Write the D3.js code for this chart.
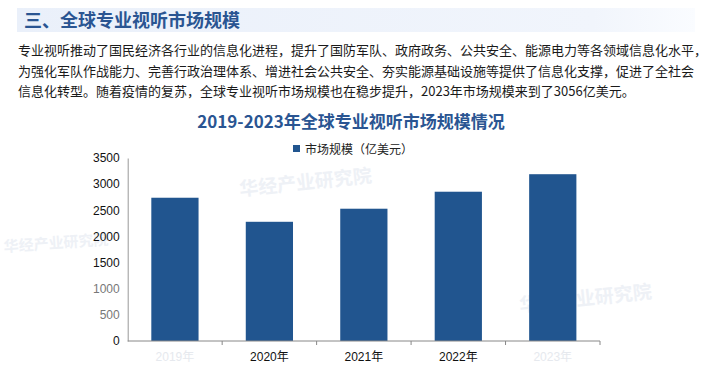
<!DOCTYPE html>
<html><head><meta charset="utf-8">
<script src="https://cdn.jsdelivr.net/npm/d3@7"></script>
<style>
html,body{margin:0;padding:0;background:#fff;}
svg{display:block;font-family:"Noto Sans CJK SC","Liberation Sans",sans-serif;}
</style></head>
<body><svg id="c" width="705" height="392"></svg>
<script>
const categories = ["2019年","2020年","2021年","2022年","2023年"];
const values = [2740, 2280, 2530, 2855, 3190];
const yTicks = [0, 500, 1000, 1500, 2000, 2500, 3000, 3500];
const seriesName = "市场规模（亿美元）";
const chartTitle = "2019-2023年全球专业视听市场规模情况";
const heading = "三、全球专业视听市场规模";
const paragraph = [
  "专业视听推动了国民经济各行业的信息化进程，提升了国防军队、政府政务、公共安全、能源电力等各领域信息化水平，",
  "为强化军队作战能力、完善行政治理体系、增进社会公共安全、夯实能源基础设施等提供了信息化支撑，促进了全社会",
  "信息化转型。随着疫情的复苏，全球专业视听市场规模也在稳步提升，2023年市场规模来到了3056亿美元。"
];
const watermark = "华经产业研究院";

const svg = d3.select("#c");
const blue = "#21558f";

// heading band
const grad = svg.append("defs").append("linearGradient").attr("id","hg");
grad.append("stop").attr("offset","0").attr("stop-color","#eaf0fa");
grad.append("stop").attr("offset","0.85").attr("stop-color","#f1f5fc");
grad.append("stop").attr("offset","1").attr("stop-color","#fafcff");
svg.append("rect").attr("x",17).attr("y",8).attr("width",678).attr("height",24).attr("fill","url(#hg)");
svg.append("text").attr("x",24).attr("y",26.5).attr("font-size",18).attr("font-weight","bold")
  .attr("fill","#2a5592").text(heading);

// watermarks (faint)
const wm = [[240,196,-6,19],[4,252,-4,15],[520,312,-6,19]];
wm.forEach(([x,y,r,s])=>{
  svg.append("text").attr("transform",`translate(${x},${y}) rotate(${r})`).attr("font-size",s)
    .attr("font-weight","bold").attr("fill","#eef1f6").text(watermark);
});

// paragraph
paragraph.forEach((t,i)=>{
  svg.append("text").attr("x",18).attr("y",55+i*20.5).attr("font-size",13).attr("fill","#1a1a1a").text(t);
});

// chart title
svg.append("text").attr("x",351).attr("y",128).attr("text-anchor","middle").attr("font-size",17)
  .attr("font-weight","bold").attr("fill","#2a5592").text(chartTitle);

// legend
svg.append("rect").attr("x",293).attr("y",145).attr("width",7).attr("height",7).attr("fill",blue);
svg.append("text").attr("x",305).attr("y",153.5).attr("font-size",12).attr("fill","#222").text(seriesName);

// scales
const x = d3.scaleBand().domain(categories).range([127.7,600]).paddingInner(0.5).paddingOuter(0.25);
const y = d3.scaleLinear().domain([0,3500]).range([341,158]);

const g = svg.append("g");
g.selectAll("rect.bar").data(values).join("rect").attr("class","bar")
  .attr("x",(d,i)=>x(categories[i])).attr("width",x.bandwidth())
  .attr("y",d=>y(d)).attr("height",d=>y(0)-y(d)).attr("fill",blue);

// y axis
const ya = svg.append("g").attr("transform","translate(127.7,0)")
  .call(d3.axisLeft(y).tickValues(yTicks).tickSize(0).tickPadding(8).tickFormat(d3.format("d")));
ya.select(".domain").attr("stroke","#999");
ya.selectAll("text").attr("font-family","Liberation Sans, Arial, sans-serif").attr("font-size",12)
  .attr("fill",d=>(d===500||d===1000)?"#777":"#111");

// x axis
const step = x.step();
const xa = svg.append("g").attr("transform","translate(0,341)");
xa.append("line").attr("x1",127.7).attr("x2",600).attr("stroke","#888");
categories.forEach((c,i)=>{
  const cx = x(c)+x.bandwidth()/2;
  xa.append("line").attr("x1",cx+step/2).attr("x2",cx+step/2).attr("y1",0).attr("y2",4).attr("stroke","#888");
  xa.append("text").attr("x",cx).attr("y",20).attr("text-anchor","middle")
    .attr("font-family","Liberation Sans, 'Noto Sans CJK SC', sans-serif").attr("font-size",12)
    .attr("fill",(i===0||i===4)?"#e6e9ee":"#111").text(c);
});
</script></body></html>
